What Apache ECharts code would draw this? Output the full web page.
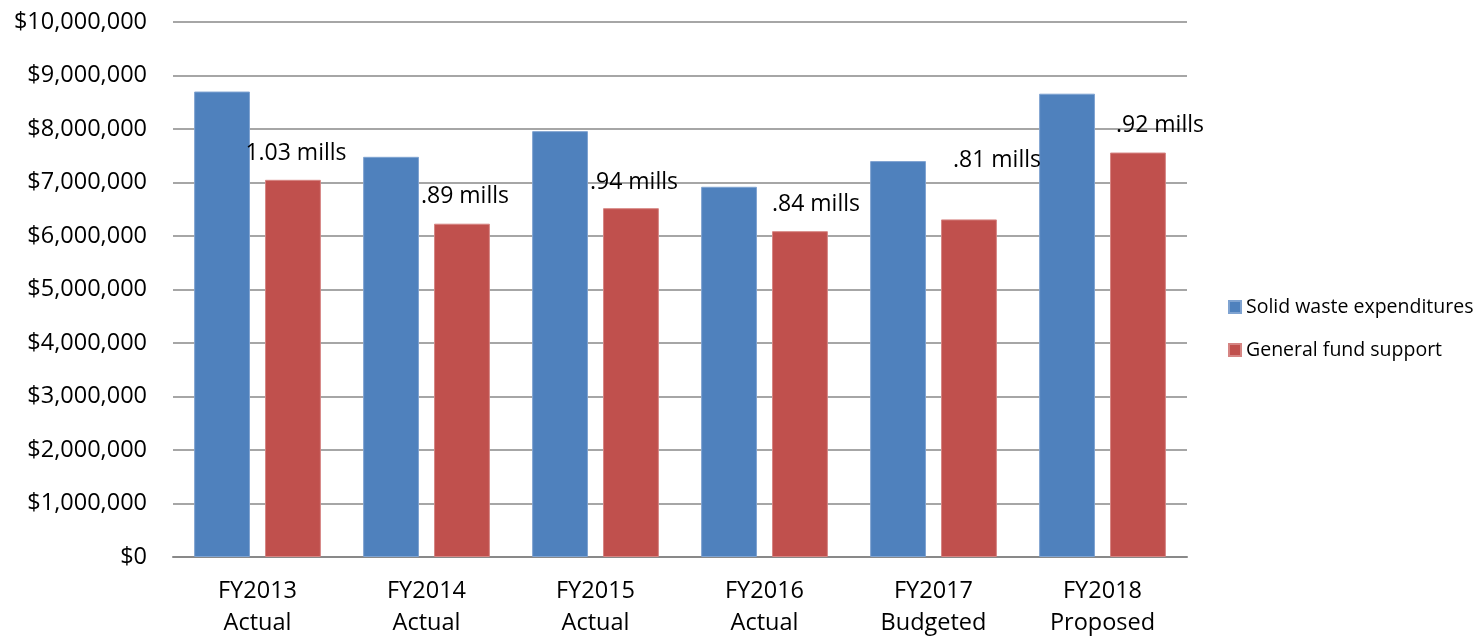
<!DOCTYPE html>
<html>
<head>
<meta charset="utf-8">
<script src="https://cdn.jsdelivr.net/npm/echarts@6/dist/echarts.min.js"></script>
<style>
html,body{margin:0;padding:0;background:#fff;}
#chart{width:1482px;height:637px;}
</style>
</head>
<body>
<div id="chart"></div>
<script>
const categories = ['FY2013\nActual', 'FY2014\nActual', 'FY2015\nActual', 'FY2016\nActual', 'FY2017\nBudgeted', 'FY2018\nProposed'];
const solidWaste = [8700000, 7480000, 7960000, 6920000, 7400000, 8660000];
const generalFund = [7050000, 6230000, 6520000, 6090000, 6310000, 7560000];
const millLabels = ['1.03 mills', '.89 mills', '.94 mills', '.84 mills', '.81 mills', '.92 mills'];
const seriesNames = ['Solid waste expenditures', 'General fund support'];

// label placement tweaks (layout, not data)
const labelShift = [[3, -13], [3, -14], [3, -13], [16, -14], [28, -46], [22, -14]];

const FONT = '"Open Sans", sans-serif';
const chart = echarts.init(document.getElementById('chart'), null, {renderer: 'canvas'});

const fmt = v => '$' + v.toLocaleString('en-US');

chart.setOption({
  animation: false,
  backgroundColor: '#ffffff',
  textStyle: {fontFamily: FONT, color: '#000'},
  grid: {left: 173, right: 295, top: 22, bottom: 80, containLabel: false, outerBoundsMode: 'none'},
  legend: {
    orient: 'vertical',
    left: 1223,
    top: 292,
    itemWidth: 12,
    itemHeight: 12,
    itemGap: 23,
    icon: 'rect',
    textStyle: {fontFamily: FONT, fontSize: 19.5, color: '#000', lineHeight: 20},
    data: seriesNames
  },
  xAxis: {
    type: 'category',
    data: categories,
    axisLine: {lineStyle: {color: '#898989', width: 2}},
    axisTick: {show: false},
    axisLabel: {fontFamily: FONT, fontSize: 23.5, color: '#000', lineHeight: 32, margin: 18}
  },
  yAxis: {
    type: 'value',
    min: 0,
    max: 10000000,
    interval: 1000000,
    axisLine: {show: false},
    axisTick: {show: false},
    splitLine: {lineStyle: {color: '#888888', width: 1.5}},
    axisLabel: {fontFamily: FONT, fontSize: 23.5, color: '#000', margin: 26, formatter: fmt}
  },
  series: [
    {
      name: seriesNames[0],
      type: 'bar',
      data: solidWaste,
      barGap: '27%',
      barCategoryGap: '25%',
      itemStyle: {color: '#4F81BD', borderColor: '#7fa3d1', borderWidth: 1}
    },
    {
      name: seriesNames[1],
      type: 'bar',
      data: generalFund.map((v, i) => ({
        value: v,
        label: {offset: labelShift[i]}
      })),
      barGap: '27%',
      barCategoryGap: '25%',
      z: 3,
      itemStyle: {color: '#C0504D', borderColor: '#d68583', borderWidth: 1},
      label: {
        show: true,
        position: 'top',
        distance: 0,
        fontFamily: FONT,
        fontSize: 23,
        lineHeight: 26,
        color: '#000',
        formatter: p => millLabels[p.dataIndex]
      }
    }
  ]
});
</script>
</body>
</html>
